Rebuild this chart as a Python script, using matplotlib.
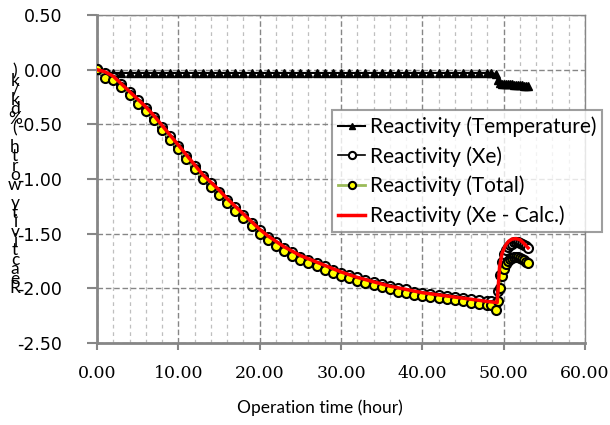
import matplotlib
matplotlib.use("Agg")
import matplotlib.pyplot as plt
from matplotlib.ticker import MultipleLocator, FormatStrFormatter

# measured data (hour, %dk/k)
t_obs = [0, 1, 2, 3, 4, 5, 6, 7, 8, 9, 10, 11, 12, 13, 14, 15, 16, 17, 18, 19,
         20, 21, 22, 23, 24, 25, 26, 27, 28, 29, 30, 31, 32, 33, 34, 35, 36, 37, 38, 39,
         40, 41, 42, 43, 44, 45, 46, 47, 48, 48.5, 49, 49.25, 49.5, 49.75, 50,
         50.25, 50.5, 50.75, 51, 51.25, 51.5, 51.75, 52, 52.25, 52.5, 52.75, 53]

rho_temp = [0.00, -0.03, -0.03, -0.03, -0.03, -0.03, -0.03, -0.03, -0.03, -0.03,
            -0.03, -0.03, -0.03, -0.03, -0.03, -0.03, -0.03, -0.03, -0.03, -0.03,
            -0.03, -0.03, -0.03, -0.03, -0.03, -0.03, -0.03, -0.03, -0.03, -0.03,
            -0.03, -0.03, -0.03, -0.03, -0.03, -0.03, -0.03, -0.03, -0.03, -0.03,
            -0.03, -0.03, -0.03, -0.03, -0.03, -0.03, -0.03, -0.03, -0.03, -0.03,
            -0.04, -0.09, -0.12, -0.13, -0.13, -0.13, -0.13, -0.135, -0.135, -0.14,
            -0.14, -0.14, -0.14, -0.14, -0.145, -0.145, -0.145]

rho_xe = [0.01, -0.03, -0.07, -0.13, -0.20, -0.28, -0.35, -0.43, -0.52, -0.61,
          -0.70, -0.79, -0.88, -0.97, -1.04, -1.12, -1.19, -1.26, -1.33, -1.40,
          -1.47, -1.53, -1.58, -1.63, -1.67, -1.71, -1.74, -1.77, -1.80, -1.83,
          -1.86, -1.88, -1.90, -1.92, -1.94, -1.96, -1.98, -2.00, -2.01, -2.03,
          -2.04, -2.05, -2.06, -2.07, -2.08, -2.09, -2.10, -2.11, -2.12, -2.12,
          -2.13, -2.02, -1.88, -1.76, -1.69, -1.65, -1.62, -1.60, -1.59, -1.58,
          -1.575, -1.58, -1.585, -1.59, -1.60, -1.615, -1.63]

rho_total = [0.01, -0.08, -0.09, -0.16, -0.23, -0.31, -0.38, -0.46, -0.55, -0.64,
             -0.73, -0.82, -0.91, -1.00, -1.07, -1.15, -1.22, -1.29, -1.36, -1.43,
             -1.50, -1.56, -1.61, -1.66, -1.70, -1.74, -1.77, -1.80, -1.83, -1.86,
             -1.89, -1.91, -1.93, -1.95, -1.97, -1.99, -2.01, -2.03, -2.04, -2.06,
             -2.07, -2.08, -2.09, -2.10, -2.11, -2.12, -2.13, -2.14, -2.15, -2.15,
             -2.20, -2.12, -2.00, -1.89, -1.82, -1.78, -1.75, -1.73, -1.72, -1.71,
             -1.71, -1.715, -1.72, -1.73, -1.74, -1.755, -1.77]

# calculated Xe reactivity
t_calc = [0, 1, 2, 3, 4, 5, 6, 7, 8, 9, 10, 11, 12, 13, 14, 15, 16, 17, 18, 19,
          20, 21, 22, 23, 24, 25, 26, 27, 28, 29, 30, 32, 34, 36, 38, 40, 42, 44, 46, 48,
          49.2, 49.5, 49.8, 50.2, 50.6, 51, 51.5, 52, 52.5, 53]
rho_calc = [0.00, -0.02, -0.06, -0.13, -0.20, -0.27, -0.34, -0.42, -0.51, -0.60,
            -0.69, -0.78, -0.87, -0.96, -1.03, -1.10, -1.18, -1.25, -1.32, -1.39,
            -1.46, -1.52, -1.57, -1.62, -1.66, -1.70, -1.73, -1.76, -1.79, -1.82,
            -1.85, -1.90, -1.94, -1.98, -2.01, -2.04, -2.06, -2.08, -2.10, -2.12,
            -2.13, -1.80, -1.68, -1.61, -1.57, -1.55, -1.545, -1.555, -1.59, -1.63]

x_ticks = [0, 10, 20, 30, 40, 50, 60]
x_ticklabels = ["0.00", "10.00", "20.00", "30.00", "40.00", "50.00", "60.00"]
ylabel = "Reactivity worth (%dk/k)"

grey = "#868686"
fig = plt.figure(figsize=(6.1, 4.25), dpi=100)
ax = fig.add_axes([97 / 610, 1 - 343 / 425, 488 / 610, 328 / 425])

ax.plot(t_obs, rho_temp, color="black", lw=1.5, marker="^", ms=5.5,
        mfc="black", mec="black", label="Reactivity (Temperature)", zorder=3)
ax.plot(t_obs, rho_xe, color="black", lw=1.2, marker="o", ms=6.5,
        mfc="white", mec="black", mew=1.5, label="Reactivity (Xe)", zorder=4)
ax.plot(t_obs, rho_total, color="#9BBB59", lw=2, marker="o", ms=6.5,
        mfc="#FFFF00", mec="black", mew=1.5, label="Reactivity (Total)", zorder=5)
ax.plot(t_calc, rho_calc, color="#FF0000", lw=2.5, label="Reactivity (Xe - Calc.)", zorder=6)

ax.set_xlim(0, 60)
ax.set_ylim(-2.5, 0.5)
ax.set_xticks(x_ticks)
ax.set_xticklabels(x_ticklabels, family="DejaVu Serif", fontsize=12.5)
ax.xaxis.set_minor_locator(MultipleLocator(2))
ax.yaxis.set_major_locator(MultipleLocator(0.5))
ax.yaxis.set_major_formatter(FormatStrFormatter("%.2f"))

ax.grid(True, which="major", axis="x", color=grey, ls=(0, (4, 2)), lw=1.0)
ax.grid(True, which="minor", axis="x", color="#BFBFBF", ls=(0, (3, 3)), lw=0.9)
ax.grid(True, which="major", axis="y", color=grey, ls=(0, (4, 2)), lw=1.0)
ax.set_axisbelow(True)

for s in ax.spines.values():
    s.set_color(grey)
    s.set_linewidth(1.0)
ax.spines["left"].set_linewidth(2)
ax.spines["bottom"].set_linewidth(2)

ax.tick_params(axis="x", which="major", direction="out", length=5, width=1.5, color=grey,
               pad=11)
ax.tick_params(axis="x", which="minor", length=0)
ax.tick_params(axis="y", direction="out", length=7, width=1.5, color=grey,
               pad=18, labelsize=12.5)

fig.text(320 / 610, 1 - 408 / 425, "Operation time (hour)", family="Lato",
         fontsize=12.5, ha="center", va="center")

# y-label drawn as a stack of upright characters, read bottom to top
for i, ch in enumerate(ylabel):
    if ch != " ":
        fig.text(15 / 610, 1 - (288 - i * 9.4) / 425, ch, family="Lato",
                 fontsize=12.5, ha="center", va="center")

leg = fig.legend(loc="upper left", bbox_to_anchor=(332 / 610, 1 - 110 / 425),
                 prop={"family": "Lato", "size": 15}, fancybox=False,
                 handlelength=1.3, handletextpad=0.2, labelspacing=0.44,
                 borderpad=0.3, borderaxespad=0, markerscale=0.8)
leg.get_frame().set_edgecolor(grey)
leg.get_frame().set_linewidth(1.5)

fig.savefig("out.png", dpi=100)
